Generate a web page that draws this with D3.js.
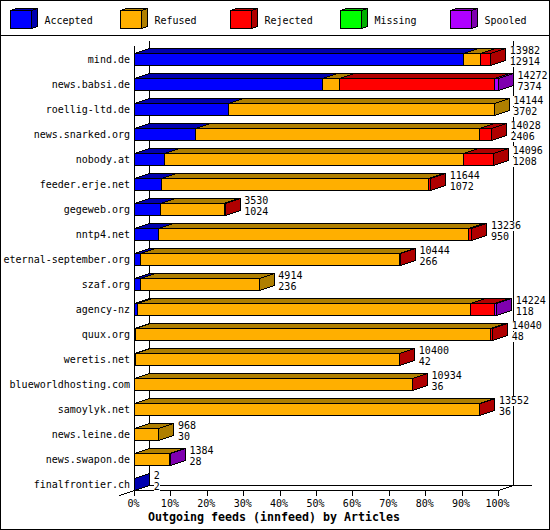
<!DOCTYPE html>
<html><head><meta charset="utf-8">
<script src="https://cdnjs.cloudflare.com/ajax/libs/d3/7.8.5/d3.min.js"></script>
<style>html,body{margin:0;padding:0;background:#fff}svg{display:block}text{font-family:"DejaVu Sans Mono","Liberation Mono",monospace;font-size:10px;fill:#000}</style>
</head><body><svg id="c" width="550" height="530"></svg>
<script>
const hosts=["mind.de","news.babsi.de","roellig-ltd.de","news.snarked.org","nobody.at","feeder.erje.net","gegeweb.org","nntp4.net","eternal-september.org","szaf.org","agency-nz","quux.org","weretis.net","blueworldhosting.com","samoylyk.net","news.leine.de","news.swapon.de","finalfrontier.ch"];
const seriesNames=["Accepted","Refused","Rejected","Missing","Spooled"];
const colors=["#0000ff","#ffaf00","#ff0000","#00ff00","#af00ff"];
const darks=["#0000af","#af7f00","#af0000","#00af00","#7f00af"];
const accepted=[90.3,51.7,25.8,16.8,8.2,7.5,7.1,6.5,1.6,1.6,0.8,0.3,0.3,0.1,0.1,0.1,0.1,0.1];
const refused=[4.8,4.6,73,77.9,82.1,73.4,17.5,85.2,71.1,32.7,91.6,97.6,72.5,76.2,94.7,6.6,9.5,0];
const rejected=[2.8,42.5,0,3.4,8.4,0.5,0.3,1,0.4,0,6.4,0.5,0.1,0.1,0.1,0,0,0];
const missing=[0,0,0,0,0,0,0,0,0,0,0,0,0,0,0,0,0,0];
const spooled=[0,1.2,0,0,0,0,0,0,0,0,0.7,0,0,0,0,0,0.3,0];
const totals=["13982","14272","14144","14028","14096","11644","3530","13236","10444","4914","14224","14040","10400","10934","13552","968","1384","2"];
const counts=["12914","7374","3702","2406","1208","1072","1024","950","266","236","118","48","42","36","36","30","28","2"];
const xTicks=[0,10,20,30,40,50,60,70,80,90,100];
const xTitle="Outgoing feeds (innfeed) by Articles";
const svg=d3.select("#c").attr("shape-rendering","crispEdges");
const x=d3.scaleLinear().domain([0,100]).range([134.5,498.5]);
const band=d3.scaleBand().domain(hosts).range([53.5,490.5]).paddingInner(0.52).paddingOuter(0);
const dx=15,dy=5,bh=band.bandwidth();
svg.append("rect").attr("x",.5).attr("y",.5).attr("width",549).attr("height",529).attr("fill","#fff").attr("stroke","#000");
svg.append("line").attr("x1",0).attr("x2",550).attr("y1",35.5).attr("y2",35.5).attr("stroke","#000");
seriesNames.forEach((n,i)=>{const lx=10.5+i*110;const g=svg.append("g");
g.append("polygon").attr("points",`${lx+21},10.5 ${lx+27},8.5 ${lx+27},26.5 ${lx+21},28.5`).attr("fill",darks[i]).attr("stroke","#000");
g.append("polygon").attr("points",`${lx},10.5 ${lx+6},8.5 ${lx+27},8.5 ${lx+21},10.5`).attr("fill",darks[i]).attr("stroke","#000");
g.append("rect").attr("x",lx).attr("y",10.5).attr("width",21).attr("height",18).attr("fill",colors[i]).attr("stroke","#000");
g.append("text").attr("x",lx+34).attr("y",24).text(n);});
const ax=svg.append("g").attr("stroke","#000");
const yTop=40.5,yBase=490.5;
ax.append("line").attr("x1",x(0)).attr("x2",x(0)).attr("y1",45.5).attr("y2",yBase);
ax.append("line").attr("x1",x(0)+dx).attr("x2",x(0)+dx).attr("y1",yTop).attr("y2",yBase-dy);
ax.append("line").attr("x1",x(100)+dx).attr("x2",x(100)+dx).attr("y1",yTop).attr("y2",yBase-dy);
ax.append("line").attr("x1",x(0)+dx).attr("x2",532).attr("y1",yBase-dy).attr("y2",yBase-dy);
ax.append("line").attr("x1",x(0)).attr("x2",x(100)).attr("y1",yBase).attr("y2",yBase);
ax.append("line").attr("x1",x(0)-dx).attr("y1",yBase+dy).attr("x2",x(0)).attr("y2",yBase);
ax.append("line").attr("x1",x(100)).attr("y1",yBase).attr("x2",x(100)+dx).attr("y2",yBase-dy);
ax.selectAll(".t").data(xTicks).join("line").attr("x1",d=>x(d)).attr("x2",d=>x(d)).attr("y1",yBase).attr("y2",yBase+5);
svg.selectAll(".xl").data(xTicks).join("text").attr("x",d=>x(d)-1).attr("y",507).attr("text-anchor","middle").text(d=>d+"%");
svg.append("text").attr("x",274).attr("y",521).attr("text-anchor","middle").style("font-size","11.63px").style("font-weight","bold").text(xTitle);
const layers=[accepted,refused,rejected,missing,spooled];
hosts.forEach((h,r)=>{
const y=band(h);
svg.append("text").attr("x",130).attr("y",y+bh/2+3.5).attr("text-anchor","end").text(h);
let c=0,last=0,end=0;
layers.forEach((l,s)=>{if(l[r]>0)last=s;});
layers.forEach((l,s)=>{const v=l[r];if(!(v>0))return;const a=x(c),b=x(c+v);c+=v;end=b;
svg.append("polygon").attr("points",`${a},${y} ${a+dx},${y-dy} ${b+dx},${y-dy} ${b},${y}`).attr("fill",darks[s]).attr("stroke","#000");
if(s===last)svg.append("polygon").attr("points",`${b},${y} ${b+dx},${y-dy} ${b+dx},${y+bh-dy} ${b},${y+bh}`).attr("fill",darks[s]).attr("stroke","#000");
svg.append("rect").attr("x",a).attr("y",y).attr("width",b-a).attr("height",bh).attr("fill",colors[s]).attr("stroke","#000");
});
const tx=end+dx+4;
[[totals[r],0.5],[counts[r],11.5]].forEach(([t,o])=>{
svg.append("rect").attr("x",tx).attr("y",y+o-8).attr("width",t.length*6).attr("height",10).attr("fill","#fff");
svg.append("text").attr("x",tx).attr("y",y+o).text(t);
});
});
</script></body></html>
